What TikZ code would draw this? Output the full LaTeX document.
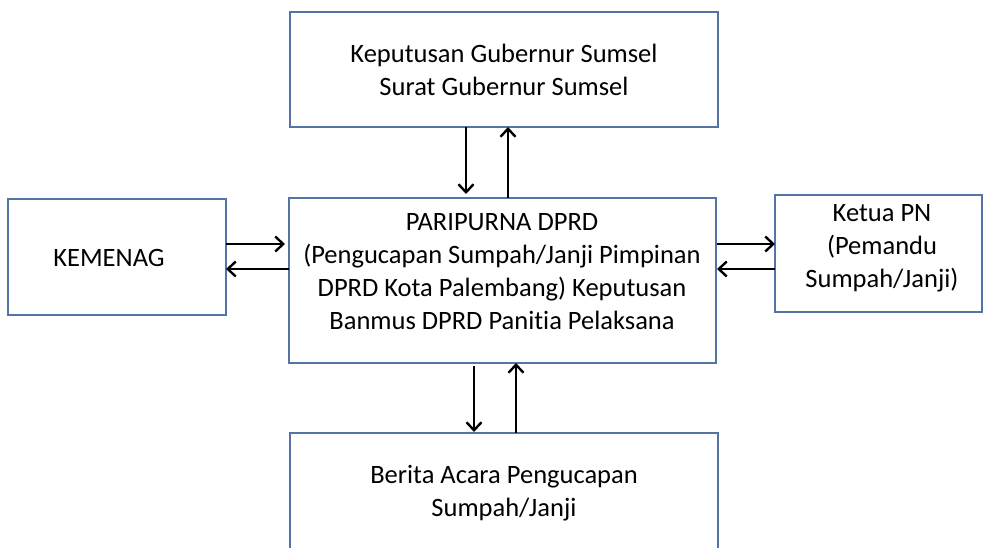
\documentclass[tikz,border=0pt]{standalone}
\usepackage{fontspec}
\setmainfont[Ligatures=NoCommon]{Carlito}
\usetikzlibrary{arrows.meta}
\definecolor{boxblue}{RGB}{84,116,166}
\begin{document}
\begin{tikzpicture}[x=1pt,y=-1pt,
  box/.style={draw=boxblue,line width=1.2pt,inner sep=0pt,outer sep=0pt},
  txt/.style={align=center,inner sep=0pt,font=\fontsize{26.5}{33}\selectfont},
  arr/.style={-{Straight Barb[length=8pt,width=15pt,line width=2.4pt]},line width=2.5pt}]
\useasboundingbox (0,0) rectangle (983,548);
\clip (0,0) rectangle (983,548);
\fill[white] (0,0) rectangle (983,548);
\node[box,minimum width=428pt,minimum height=115pt] (top) at (504,69.5) {};
\node[box,minimum width=427pt,minimum height=165pt] (center) at (502.5,280.5) {};
\node[box,minimum width=218pt,minimum height=116pt] (left) at (117,257) {};
\node[box,minimum width=207pt,minimum height=117pt] (right) at (878.5,253.5) {};
\node[box,minimum width=428pt,minimum height=120pt] (bottom) at (504,493) {};
\node[txt] (toptxt) at (504,70) {Keputusan Gubernur Sumsel\\Surat Gubernur Sumsel};
\node[txt] (ctxt) at (502,272) {PARIPURNA DPRD\\(Pengucapan Sumpah/Janji Pimpinan\\DPRD Kota Palembang) Keputusan\\Banmus DPRD Panitia Pelaksana};
\node[txt] (ltxt) at (109,258) {KEMENAG};
\node[txt] (rtxt) at (882,248) {Ketua PN\\(Pemandu\\Sumpah/Janji)};
\node[txt] (btxt) at (504,493) {Berita Acara Pengucapan\\Sumpah/Janji};
% top arrows
\draw[arr,shorten >=4pt] ([xshift=-38pt]top.south) -- ([xshift=-38pt]top.south |- center.north);
\draw[arr] ([xshift=4pt]top.south |- center.north) -- ([xshift=4pt]top.south);
% bottom arrows
\draw[arr,shorten <=3pt,shorten >=1pt] ([xshift=-28.5pt]center.south) -- ([xshift=-28.5pt]center.south |- bottom.north);
\draw[arr] ([xshift=13.5pt]center.south |- bottom.north) -- ([xshift=13.5pt]center.south);
% left arrows
\draw[arr,shorten >=4pt] ([yshift=13pt]left.east) -- ([yshift=13pt]left.east -| center.west);
\draw[arr] ([yshift=-12pt]left.east -| center.west) -- ([yshift=-12pt]left.east);
% right arrows
\draw[arr,shorten <=1pt] ([yshift=9.5pt]right.west -| center.east) -- ([yshift=9.5pt]right.west);
\draw[arr,shorten >=1pt] ([yshift=-15.5pt]right.west) -- ([yshift=-15.5pt]right.west -| center.east);
\end{tikzpicture}
\end{document}
